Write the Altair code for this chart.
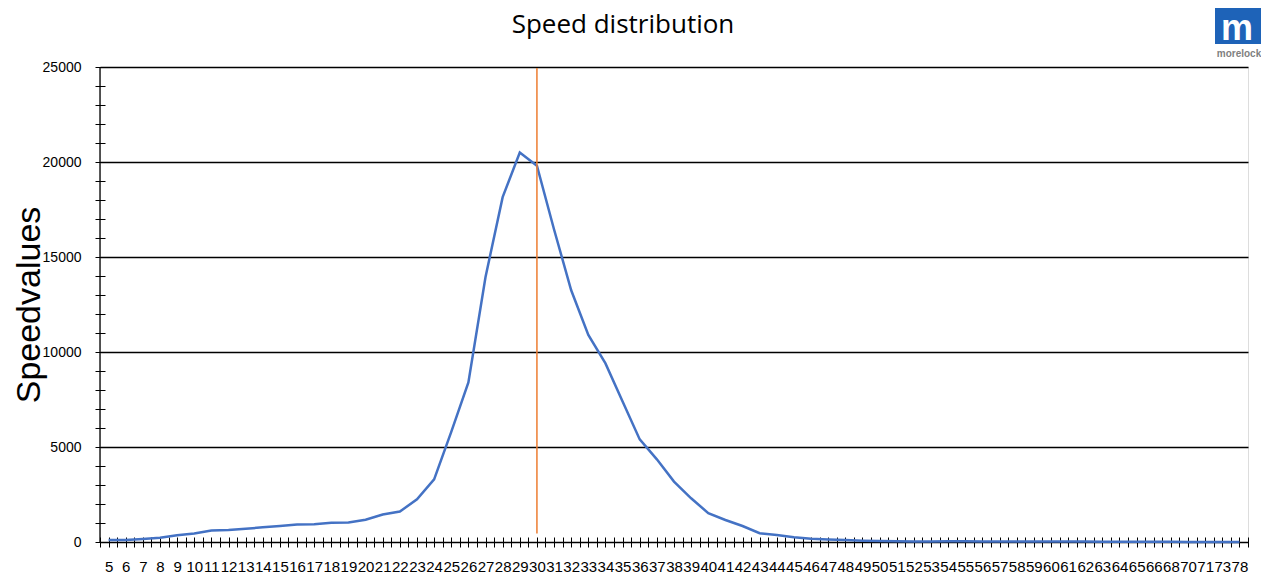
import altair as alt
import pandas as pd

# ---- data ----
categories = ["5", "6", "7", "8", "9", "10", "11", "12", "13", "14", "15", "16",
              "17", "18", "19", "20", "21", "22", "23", "24", "25", "26", "27", "28",
              "29", "30", "31", "32", "33", "34", "35", "36", "37", "38", "39", "40",
              "41", "42", "43", "44", "45", "46", "47", "48", "49", "50", "51", "52",
              "53", "54", "55", "56", "57", "58", "59", "60", "61", "62", "63", "64",
              "65", "66", "68", "70", "71", "73", "78"]
speed_counts = [100, 110, 160, 220, 350, 450, 610, 630, 700, 770, 840, 920,
                940, 1010, 1030, 1170, 1450, 1600, 2250, 3300, 5800, 8400, 13950, 18150,
                20500, 19800, 16450, 13250, 10900, 9400, 7400, 5400, 4350, 3180, 2300, 1520,
                1160, 840, 460, 370, 250, 170, 130, 100, 70, 50, 40, 30,
                30, 40, 40, 30, 20, 20, 20, 30, 30, 20, 15, 15,
                10, 10, 10, 5, 5, 5, 5]
marker_category = ["30"]
y_ticks = list(range(0, 25001, 1000))

n = len(categories)
df = pd.DataFrame({"idx": list(range(n)), "category": categories, "count": speed_counts})
x_tick_values = [i * 0.5 - 0.5 for i in range(2 * n + 1)]
label_array = "[" + ",".join("'" + c + "'" for c in categories) + "]"

FONT = "Liberation Sans"

x_scale = alt.Scale(domain=[-0.5, n - 0.5], nice=False, zero=False)
y_scale = alt.Scale(domain=[0, 25000], nice=False)

x_axis = alt.Axis(
    values=x_tick_values,
    labelExpr="datum.value % 1 == 0 ? " + label_array + "[datum.value] : ''",
    title=None, grid=False, domain=False,
    offset=-5, tickSize=10, tickColor="black", tickWidth=1,
    labelFont=FONT, labelFontSize=15, labelColor="black", labelPadding=12,
    labelOverlap=False, labelFlush=False, labelBound=False,
)
y_axis = alt.Axis(
    values=y_ticks, format="d",
    labelExpr="datum.value % 5000 == 0 ? datum.label : ''",
    title="Speedvalues", titleFont=FONT, titleFontSize=34, titleFontWeight="normal",
    titleColor="black", titleX=-66, titleY=237.5, titleBaseline="alphabetic",
    titleAlign="center",
    grid=True, gridColor="black", gridWidth=1.3,
    gridOpacity={"condition": {"test": "datum.value % 5000 == 0", "value": 1}, "value": 0},
    domain=False, offset=-5, tickSize=10, tickColor="black", tickWidth=1,
    labelFont=FONT, labelFontSize=14, labelColor="black", labelPadding=14,
    labelOverlap=False,
)

line = alt.Chart(df).mark_line(color="#4472C4", strokeWidth=2.5).encode(
    x=alt.X("idx:Q", scale=x_scale, axis=x_axis),
    y=alt.Y("count:Q", scale=y_scale, axis=y_axis),
)

marker = alt.Chart(df).transform_filter(
    alt.FieldOneOfPredicate(field="category", oneOf=marker_category)
).mark_rule(color="#ED7D31", strokeWidth=1.5).encode(
    x=alt.X("idx:Q", scale=x_scale, axis=x_axis),
    y=alt.Y(datum=24950, scale=y_scale, axis=y_axis),
    y2=alt.Y2(datum=450),
)

one = pd.DataFrame({"a": [0]})
y_domain = alt.Chart(one).mark_rule(color="black", strokeWidth=1.3).encode(
    x=alt.value(0), y=alt.value(0), y2=alt.value(475)
)

logo_box = alt.Chart(one).mark_rect(color="#1E63B8").encode(
    x=alt.value(1115), x2=alt.value(1162), y=alt.value(-59), y2=alt.value(-23)
)
logo_m = alt.Chart(one).mark_text(
    text="m", color="white", font="Liberation Sans", fontSize=36, fontWeight="bold",
    align="center", baseline="alphabetic"
).encode(x=alt.value(1137), y=alt.value(-27))
logo_txt = alt.Chart(one).mark_text(
    text="morelock", color="#7F7F7F", font="Liberation Sans", fontSize=10, fontWeight="bold",
    align="center", baseline="alphabetic"
).encode(x=alt.value(1139), y=alt.value(-10))

chart = alt.layer(line, marker, y_domain, logo_box, logo_m, logo_txt).properties(
    width=1148, height=475,
    title=alt.TitleParams(
        "Speed distribution", font="Open Sans", fontSize=26, fontWeight="normal",
        color="black", anchor="middle", frame="group", dx=-51, offset=-51,
        baseline="alphabetic",
    ),
    autosize=alt.AutoSizeParams(type="none"),
    padding={"left": 92, "top": 59, "right": 13, "bottom": 35},
).configure_view(strokeWidth=0, stroke="transparent").configure(background="white")

chart.save("out.html", embed_options={"renderer": "svg", "actions": False})
